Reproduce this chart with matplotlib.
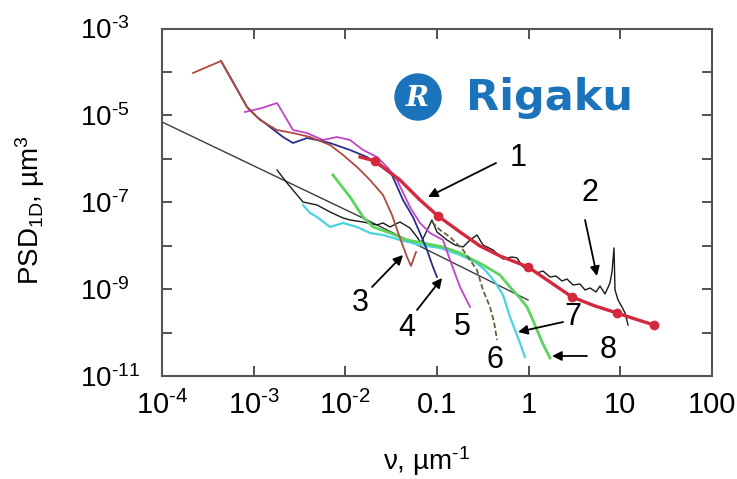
import numpy as np
import matplotlib
matplotlib.use('Agg')
import matplotlib.pyplot as plt
from matplotlib.patches import Ellipse

plt.rcParams['font.family'] = ['Liberation Sans', 'DejaVu Sans']
plt.rcParams['mathtext.fontset'] = 'custom'
plt.rcParams['mathtext.rm'] = 'Liberation Sans'
plt.rcParams['mathtext.it'] = 'Liberation Sans:italic'
plt.rcParams['mathtext.bf'] = 'Liberation Sans:bold'

# values, stored as log10(nu [um^-1]) and log10(PSD [um^3])
lognu_1 = [-1.840, -1.676, -1.404, -1.186, -0.989, -0.749, -0.531, -0.313, -0.007,
           0.233, 0.473, 0.723, 0.963, 1.160, 1.367]
logpsd_1 = [-5.958, -6.050, -6.488, -6.948, -7.316, -7.685, -8.007, -8.237, -8.490,
            -8.836, -9.181, -9.388, -9.549, -9.687, -9.825]
marker_idx_1 = [1, 4, 8, 10, 12, 14]

lognu_2 = [-2.745, -2.636, -2.462, -2.309, -2.167, -2.025, -1.949, -1.807, -1.655, -1.589,
           -1.513, -1.404, -1.295, -1.218, -1.175, -1.055, -1.000, -0.891, -0.804, -0.716,
           -0.640, -0.564, -0.498, -0.389, -0.280, -0.182, -0.127, -0.062, 0.015, 0.091,
           0.156, 0.233, 0.298, 0.364, 0.418, 0.484, 0.560, 0.615, 0.669, 0.735,
           0.778, 0.833, 0.887, 0.909, 0.931, 0.942, 0.975, 1.018, 1.051, 1.084]
logpsd_2 = [-6.257, -6.557, -6.994, -7.063, -7.224, -7.362, -7.408, -7.454, -7.523, -7.477,
            -7.569, -7.454, -7.592, -7.800, -7.938, -7.408, -7.685, -7.869, -7.984, -8.030,
            -7.869, -7.754, -7.984, -8.099, -8.306, -8.260, -8.283, -8.490, -8.513, -8.628,
            -8.582, -8.721, -8.698, -8.813, -8.767, -8.905, -8.882, -9.020, -8.974, -9.066,
            -8.928, -9.112, -8.859, -8.605, -8.053, -9.020, -9.250, -9.411, -9.549, -9.825]

lognu_3 = [-3.662, -3.356, -3.236, -3.073, -2.931, -2.745, -2.571, -2.385, -2.167, -2.025,
           -1.873, -1.731, -1.589, -1.491, -1.404, -1.327, -1.284, -1.229]
logpsd_3 = [-4.024, -3.748, -4.186, -4.807, -5.106, -5.337, -5.406, -5.498, -5.682, -5.912,
            -6.188, -6.488, -6.833, -7.293, -7.823, -8.260, -8.467, -8.145]

lognu_4 = [-3.356, -3.258, -3.073, -2.964, -2.822, -2.680, -2.571, -2.418, -2.309, -2.167,
           -1.949, -1.764, -1.589, -1.491, -1.371, -1.262, -1.186, -1.109, -1.044, -1.000]
logpsd_4 = [-3.748, -4.117, -4.807, -5.037, -5.267, -5.498, -5.636, -5.521, -5.567, -5.636,
            -5.797, -5.958, -6.211, -6.372, -6.948, -7.339, -7.708, -8.099, -8.490, -8.721]

lognu_5 = [-3.095, -2.909, -2.745, -2.571, -2.418, -2.244, -2.091, -1.949, -1.807, -1.655,
           -1.535, -1.436, -1.295, -1.186, -1.076, -0.935, -0.858, -0.749, -0.640]
logpsd_5 = [-4.922, -4.830, -4.715, -5.337, -5.406, -5.567, -5.498, -5.567, -5.797, -5.958,
            -6.211, -6.488, -7.109, -7.477, -7.708, -7.869, -8.329, -8.951, -9.411]

lognu_6 = [-1.055, -0.967, -0.858, -0.716, -0.640, -0.564, -0.498, -0.422, -0.378, -0.345]
logpsd_6 = [-7.454, -7.639, -7.800, -8.099, -8.329, -8.559, -9.020, -9.411, -9.757, -10.171]

lognu_7 = [-2.462, -2.385, -2.309, -2.167, -2.025, -1.873, -1.731, -1.589, -1.404, -1.186,
           -0.967, -0.749, -0.585, -0.476, -0.367, -0.280, -0.204, -0.149, -0.095, -0.040]
logpsd_7 = [-7.063, -7.247, -7.339, -7.569, -7.477, -7.569, -7.708, -7.754, -7.869, -7.984,
            -8.053, -8.214, -8.375, -8.559, -8.836, -9.135, -9.641, -9.941, -10.240, -10.562]

lognu_8 = [-2.135, -2.025, -1.949, -1.807, -1.698, -1.513, -1.327, -1.153, -0.935, -0.749,
           -0.498, -0.313, -0.204, -0.095, -0.018, 0.036, 0.091, 0.156, 0.233]
logpsd_8 = [-6.372, -6.672, -6.879, -7.339, -7.569, -7.708, -7.869, -7.938, -8.030, -8.168,
            -8.444, -8.675, -8.951, -9.204, -9.411, -9.664, -9.941, -10.263, -10.585]

lognu_fit = [-4.0, -1.764, -0.007]
logpsd_fit = [-5.152, -7.408, -9.250]

HY = '\u2010'  # plain hyphen, as in the original superscripts
xtick_exp = [-4, -3, -2, -1, 0, 1, 2]
xtick_labels = ['$10^{%s4}$' % HY, '$10^{%s3}$' % HY, '$10^{%s2}$' % HY, '0.1', '1', '10', '100']
ytick_exp = [-11, -10, -9, -8, -7, -6, -5, -4, -3]
ytick_labels = ['$10^{%s11}$' % HY, '', '$10^{%s9}$' % HY, '', '$10^{%s7}$' % HY, '',
                '$10^{%s5}$' % HY, '', '$10^{%s3}$' % HY]

fig = plt.figure(figsize=(7.37, 4.79), dpi=100)
ax = fig.add_axes([162 / 737, 1 - 376 / 479, 550 / 737, 347.5 / 479])
ax.set_xscale('log')
ax.set_yscale('log')


def p(lx, ly):
    return 10 ** np.array(lx), 10 ** np.array(ly)


ax.plot(*p(lognu_fit, logpsd_fit), color='#3c3c3c', lw=1.0)
ax.plot(*p(lognu_2, logpsd_2), color='#1a1a1a', lw=1.0)
ax.plot(*p(lognu_7, logpsd_7), color='#4ad4e2', lw=1.6)
ax.plot(*p(lognu_8, logpsd_8), color='#5ad45e', lw=2.0)
ax.plot(*p(lognu_6, logpsd_6), color='#6e5a3c', lw=1.3, ls=(0, (3, 1.5)))
ax.plot(*p(lognu_5, logpsd_5), color='#c144c8', lw=1.3)
ax.plot(*p(lognu_4, logpsd_4), color='#2b2d8c', lw=1.3)
ax.plot(*p(lognu_3, logpsd_3), color='#b04a40', lw=1.3)
ax.plot(*p(lognu_1, logpsd_1), color='#d4283c', lw=2.4, marker='o', ms=6,
        markevery=marker_idx_1)

ax.set_xlim(1e-4, 1e2)
ax.set_ylim(1e-11, 1e-3)
ax.set_xticks(10.0 ** np.array(xtick_exp))
ax.set_xticklabels(xtick_labels, fontsize=21)
ax.set_yticks(10.0 ** np.array(ytick_exp))
ax.set_yticklabels(ytick_labels, fontsize=20)
ax.minorticks_off()
ax.tick_params(which='major', direction='in', length=7, width=1.3, color='#444',
               top=True, right=True)
ax.tick_params(axis='y', pad=59)
ax.tick_params(axis='x', pad=11)
for lab in ax.get_yticklabels():
    lab.set_horizontalalignment('left')
for s in ax.spines.values():
    s.set_color('#555')
    s.set_linewidth(1.5)

fig.text(30 / 737, 1 - 210 / 479, r'PSD$_{\mathregular{1D}}$, µm$^{3}$', rotation=90,
         ha='center', va='center', fontsize=20)
fig.text(427 / 737, 1 - 461 / 479, 'ν, µm$^{%s1}$' % HY, ha='center', va='center',
         fontsize=20)

# curve numbers and arrows
arrows = [((-0.356, -6.096), (-1.098, -6.879)),
          ((0.615, -7.408), (0.745, -8.698)),
          ((-1.709, -8.951), (-1.371, -8.214)),
          ((-1.218, -9.480), (-0.945, -8.744)),
          ((0.375, -9.757), (-0.116, -9.987)),
          ((0.636, -10.539), (0.255, -10.539))]
for (tx, ty), (hx, hy) in arrows:
    ax.annotate('', xy=(10 ** hx, 10 ** hy), xytext=(10 ** tx, 10 ** ty),
                arrowprops=dict(arrowstyle='-|>', lw=1.3, color='k',
                                mutation_scale=14, shrinkA=0, shrinkB=0))
numbers = [('1', -0.116, -5.981), ('2', 0.669, -6.787), ('3', -1.840, -9.319),
           ('4', -1.327, -9.895), ('5', -0.727, -9.872), ('6', -0.367, -10.631),
           ('7', 0.484, -9.641), ('8', 0.866, -10.401)]
for t, lx, ly in numbers:
    ax.text(10 ** lx, 10 ** ly, t, ha='center', va='center', fontsize=22)

# Rigaku logo
logo_blue = '#1b74bb'
fig.patches.append(Ellipse((418 / 737, 1 - 97 / 479), 46 / 737, 46 / 479,
                           transform=fig.transFigure, color=logo_blue, zorder=5))
fig.text(417 / 737, 1 - 98 / 479, 'R', family='DejaVu Serif', style='italic',
         weight='bold', color='white', fontsize=20, ha='center', va='center', zorder=6)
fig.text(466 / 737, 1 - 110 / 479, 'Rigaku', family='DejaVu Sans', weight='heavy',
         color=logo_blue, fontsize=31, ha='left', va='baseline')

fig.savefig('out.png', dpi=100)
